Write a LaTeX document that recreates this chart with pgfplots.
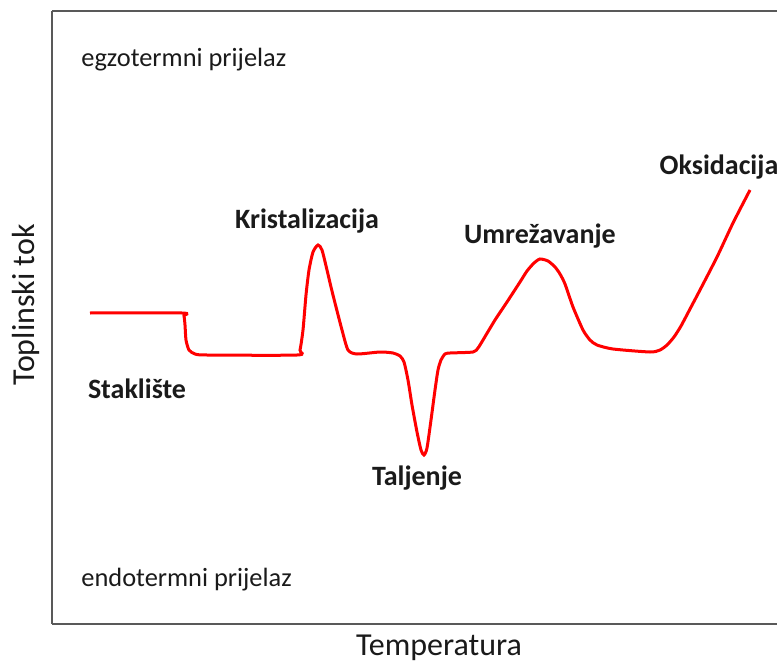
\documentclass[border=0pt]{standalone}
\usepackage{pgfplots}
\pgfplotsset{compat=1.18}
\usepackage{fontspec}
\setmainfont{Carlito}
\definecolor{framegray}{HTML}{595959}
\definecolor{txt}{HTML}{1A1A1A}

% DSC curve, traced in pixel coordinates of the reference (y grows downward)
\pgfplotstableread{
x y
90 313
182 313
184 316
185 325
186 340
189 350
195 354
207 355
297 355
300 350
303 330
306 295
309 270
313 252
318 245
322 250
327 270
331 287
335 303
342 330
348 350
357 354
380 352
393 353
400 356
404 362
408 380
412 405
417 432
421 450
424 455
427 448
431 420
435 390
438 370
441 360
445 354
450 353
473 352
478 348
483 340
495 320
507 302
520 282
527 271
534 263
540 259
548 261
555 267
560 274
565 284
573 307
583 330
590 340
597 345
613 349
650 352
660 350
667 345
674 337
681 326
690 309
700 290
717 257
733 223
750 190
}\dsc

\begin{document}
\begin{tikzpicture}
\begin{axis}[
  scale only axis,
  width=362.5pt, height=306.5pt,
  xmin=52, xmax=777, ymin=11, ymax=624,
  y dir=reverse,
  axis x line=box, axis y line=left,
  axis line style={-, draw=framegray, line width=1pt},
  xtick=\empty, ytick=\empty,
  clip=false,
]
\addplot[red, line width=1.5pt, smooth, tension=0.4] table {\dsc};

\coordinate (BL) at (axis cs:0,664);
\coordinate (TR) at (axis cs:777,0);

% labels
\node[txt, inner sep=0pt, font=\fontsize{13.2}{15}\selectfont, anchor=base west] at (axis cs:81,66) {egzotermni prijelaz};
\node[txt, inner sep=0pt, font=\fontsize{13.2}{15}\selectfont, anchor=base west] at (axis cs:81,586) {endotermni prijelaz};
\node[txt, font=\fontsize{16}{18}\selectfont, anchor=base] at (axis cs:439,655) {Temperatura};
\node[txt, font=\fontsize{16}{18}\selectfont, rotate=90] at (axis cs:26,305) {Toplinski tok};

\node[txt, font=\fontsize{14}{16}\selectfont\bfseries, anchor=base] at (axis cs:307,228) {Kristalizacija};
\node[txt, font=\fontsize{14}{16}\selectfont\bfseries, anchor=base] at (axis cs:540,243) {Umrežavanje};
\node[txt, font=\fontsize{14}{16}\selectfont\bfseries, anchor=base] at (axis cs:719,174) {Oksidacija};
\node[txt, font=\fontsize{14}{16}\selectfont\bfseries, anchor=base] at (axis cs:137,398) {Staklište};
\node[txt, font=\fontsize{14}{16}\selectfont\bfseries, anchor=base] at (axis cs:417,485) {Taljenje};
\end{axis}
\pgfresetboundingbox
\path[use as bounding box] (BL) rectangle (TR);
\end{tikzpicture}
\end{document}
